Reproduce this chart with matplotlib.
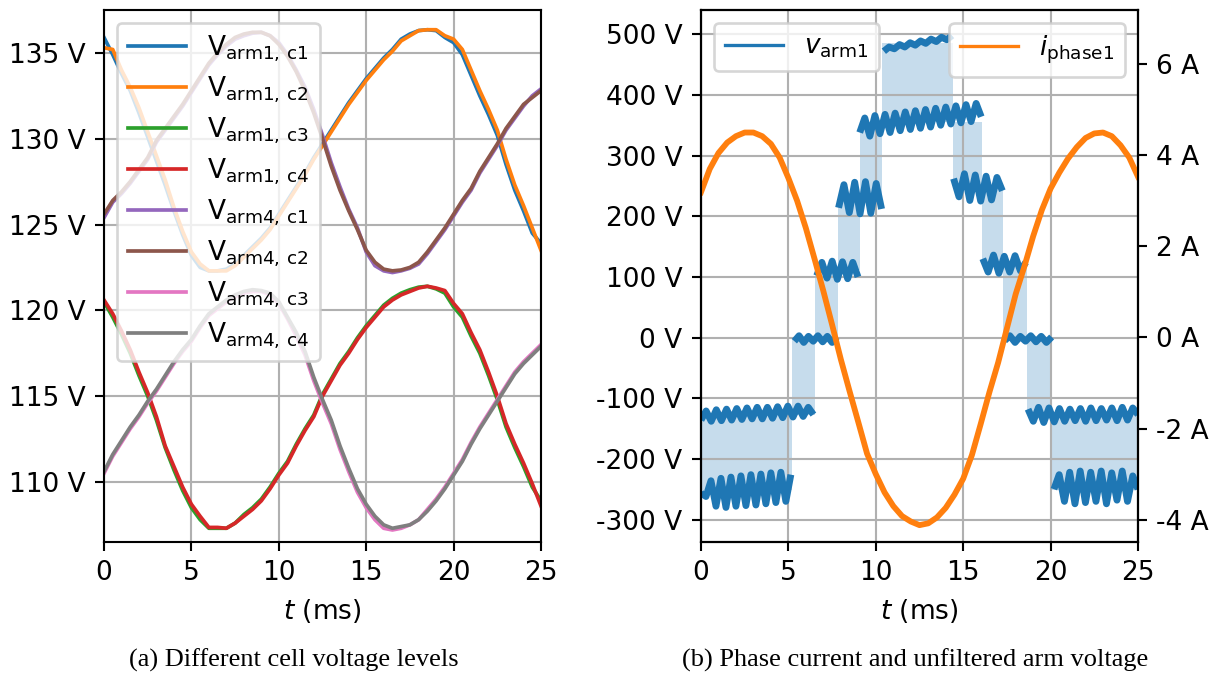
import numpy as np
import matplotlib
matplotlib.use('Agg')
import matplotlib.pyplot as plt
from matplotlib import ticker
from matplotlib.lines import Line2D

# tempo em ms, passo de 0.5 ms
t_cells = np.arange(0, 25.01, 0.5)

v_arm1_c1 = [135.9, 134.9, 133.8, 132.8, 131.5, 130.1, 128.7, 127.3, 125.8, 124.4, 123.2,
             122.5, 122.3, 122.3, 122.4, 122.7, 123.2, 123.7, 124.2, 124.8, 125.6,
             126.4, 127.2, 128.0, 128.9, 129.7, 130.5, 131.3, 132.1, 132.8, 133.5,
             134.1, 134.7, 135.2, 135.8, 136.1, 136.3, 136.35, 136.3, 135.9, 135.6,
             134.9, 133.7, 132.5, 131.4, 130.2, 128.5, 127.0, 125.8, 124.5, 123.9]
v_arm1_c2 = [135.3, 135.2, 134.0, 133.0, 131.8, 130.4, 129.0, 127.6, 126.0, 124.6, 123.4,
             122.7, 122.3, 122.3, 122.3, 122.6, 123.1, 123.6, 124.1, 124.7, 125.5,
             126.3, 127.1, 127.9, 128.8, 129.6, 130.4, 131.2, 132.0, 132.7, 133.4,
             134.0, 134.6, 135.1, 135.7, 136.0, 136.3, 136.35, 136.35, 136.0, 135.8,
             135.2, 134.0, 132.8, 131.7, 130.5, 128.8, 127.3, 126.1, 124.8, 123.5]
v_arm1_c3 = [120.5, 119.6, 118.6, 117.5, 116.2, 115.0, 113.6, 112.0, 110.7, 109.5, 108.5,
             107.8, 107.3, 107.3, 107.3, 107.6, 108.1, 108.5, 109.0, 109.7, 110.5,
             111.2, 112.2, 113.1, 113.9, 115.1, 116.0, 116.9, 117.6, 118.4, 119.1,
             119.7, 120.3, 120.7, 121.0, 121.2, 121.35, 121.4, 121.25, 121.0, 120.2,
             119.6, 118.5, 117.5, 116.2, 114.8, 113.2, 112.0, 110.9, 109.7, 108.9]
v_arm1_c4 = [120.6, 119.8, 118.8, 117.7, 116.4, 115.2, 113.8, 112.1, 110.9, 109.7, 108.7,
             108.0, 107.35, 107.35, 107.3, 107.6, 108.0, 108.4, 108.9, 109.6, 110.4,
             111.1, 112.1, 113.0, 113.8, 115.0, 115.9, 116.8, 117.5, 118.3, 119.0,
             119.6, 120.2, 120.6, 120.9, 121.1, 121.3, 121.4, 121.3, 121.15, 120.4,
             119.8, 118.7, 117.7, 116.4, 115.0, 113.4, 112.2, 111.1, 109.9, 108.6]
v_arm4_c1 = [125.4, 126.3, 126.8, 127.4, 128.1, 128.8, 129.8, 130.5, 131.2, 131.9, 132.7,
             133.5, 134.3, 134.9, 135.4, 135.8, 136.0, 136.15, 136.2, 136.0, 135.6,
             134.9, 134.0, 133.0, 131.7, 130.2, 128.6, 127.2, 125.9, 124.8, 123.4,
             122.6, 122.3, 122.2, 122.3, 122.45, 122.7, 123.3, 124.0, 124.7, 125.5,
             126.3, 127.0, 128.0, 128.8, 129.6, 130.5, 131.2, 131.9, 132.5, 132.9]
v_arm4_c2 = [125.6, 126.4, 126.9, 127.5, 128.2, 128.9, 129.9, 130.6, 131.3, 132.0, 132.8,
             133.6, 134.4, 135.0, 135.5, 135.9, 136.1, 136.2, 136.2, 136.0, 135.5,
             134.8, 133.9, 132.8, 131.5, 130.0, 128.4, 127.0, 125.8, 124.7, 123.5,
             122.8, 122.4, 122.3, 122.35, 122.5, 122.8, 123.4, 124.1, 124.8, 125.6,
             126.4, 127.1, 128.1, 128.9, 129.7, 130.6, 131.3, 132.0, 132.4, 132.8]
v_arm4_c3 = [110.5, 111.5, 112.3, 113.1, 113.8, 114.6, 115.3, 116.1, 116.9, 117.6, 118.2,
             119.0, 119.7, 120.1, 120.5, 120.8, 121.0, 121.1, 121.1, 120.9, 120.4,
             119.5, 118.5, 117.4, 115.9, 114.6, 113.4, 111.9, 110.6, 109.4, 108.5,
             107.8, 107.3, 107.2, 107.3, 107.5, 107.8, 108.4, 109.0, 109.7, 110.5,
             111.3, 112.3, 113.2, 114.0, 114.8, 115.6, 116.4, 117.0, 117.5, 118.0]
v_arm4_c4 = [110.6, 111.6, 112.4, 113.2, 113.9, 114.7, 115.4, 116.2, 117.0, 117.7, 118.3,
             119.1, 119.8, 120.2, 120.6, 120.9, 121.1, 121.2, 121.15, 121.0, 120.5,
             119.6, 118.7, 117.6, 116.1, 114.8, 113.6, 112.1, 110.8, 109.6, 108.7,
             108.0, 107.5, 107.3, 107.4, 107.5, 107.8, 108.3, 108.9, 109.6, 110.4,
             111.2, 112.2, 113.1, 113.9, 114.7, 115.5, 116.3, 116.9, 117.4, 117.9]

cell_series = [v_arm1_c1, v_arm1_c2, v_arm1_c3, v_arm1_c4,
               v_arm4_c1, v_arm4_c2, v_arm4_c3, v_arm4_c4]
cell_labels = [r'$\mathrm{V}_{\mathrm{arm1,\,c1}}$', r'$\mathrm{V}_{\mathrm{arm1,\,c2}}$',
               r'$\mathrm{V}_{\mathrm{arm1,\,c3}}$', r'$\mathrm{V}_{\mathrm{arm1,\,c4}}$',
               r'$\mathrm{V}_{\mathrm{arm4,\,c1}}$', r'$\mathrm{V}_{\mathrm{arm4,\,c2}}$',
               r'$\mathrm{V}_{\mathrm{arm4,\,c3}}$', r'$\mathrm{V}_{\mathrm{arm4,\,c4}}$']

# corrente de fase (A)
t_current = np.arange(0, 25.01, 0.5)
i_phase1 = [3.19, 3.70, 4.05, 4.28, 4.42, 4.50, 4.50, 4.42, 4.25, 3.95, 3.50,
            3.00, 2.40, 1.72, 1.02, 0.28, -0.48, -1.18, -1.86, -2.55, -3.00,
            -3.40, -3.70, -3.92, -4.04, -4.12, -4.08, -3.95, -3.74, -3.45, -3.10,
            -2.58, -1.90, -1.20, -0.55, 0.20, 0.95, 1.56, 2.22, 2.80, 3.27,
            3.62, 3.93, 4.18, 4.38, 4.48, 4.50, 4.42, 4.22, 3.95, 3.53]

# niveis da tensao do braco: (inicio, fim, valores com ripple)
arm_levels = [
    (0.00, 6.43, [-136, -121, -138, -119, -137, -118, -136, -117, -135, -116, -134, -115,
                  -134, -115, -133, -114, -132, -113, -131, -113, -130, -115, -127]),
    (0.00, 5.14, [-256, -262, -236, -278, -232, -280, -230, -278, -228, -277, -226, -276,
                  -225, -274, -223, -272, -222, -270, -226]),
    (5.34, 7.77, [-6, 3, -8, 2, -6, 3, -7, 2, -8, 1]),
    (6.62, 8.98, [102, 124, 98, 126, 96, 125, 97, 124, 100]),
    (7.87, 10.33, [214, 252, 206, 256, 204, 257, 205, 254, 212]),
    (9.08, 16.03, [338, 362, 332, 366, 336, 368, 338, 370, 341, 372, 343, 374, 345,
                   376, 347, 378, 350, 380, 352, 382, 354, 384, 356, 386, 364]),
    (10.46, 14.36, [472, 479, 476, 483, 479, 486, 482, 489, 485, 492, 488, 495, 491, 498]),
    (14.45, 17.24, [262, 232, 270, 226, 268, 225, 266, 227, 264, 242]),
    (16.12, 18.58, [130, 108, 136, 106, 134, 108, 135, 110, 124]),
    (17.37, 20.06, [-5, 3, -8, 2, -6, 3, -7, 2, -8, 1]),
    (18.71, 25.00, [-118, -138, -115, -140, -116, -139, -117, -138, -118, -137, -117,
                    -138, -116, -137, -117, -136, -116, -137, -115, -136, -116, -127]),
    (20.19, 25.00, [-250, -226, -270, -222, -274, -220, -272, -222, -270, -220, -274,
                    -223, -268, -220, -270, -228, -250]),
]

# faixas de chaveamento entre dois niveis
sw_start = [0.00, 5.20, 6.55, 7.85, 9.08, 10.36, 14.40, 16.05, 17.27, 18.66, 20.10]
sw_end = [5.20, 6.55, 7.85, 9.08, 10.36, 14.40, 16.05, 17.27, 18.66, 20.10, 25.00]
sw_low = [-252, -127, 0, 111, 230, 355, 248, 123, 0, -127, -252]
sw_high = [-127, 0, 111, 230, 355, 485, 355, 248, 123, 0, -127]

fig = plt.figure(figsize=(1215 / 190, 676 / 190), dpi=190)
ax1 = fig.add_axes([104 / 1215, 134 / 676, 437 / 1215, 532 / 676])
ax2 = fig.add_axes([701 / 1215, 134 / 676, 437 / 1215, 532 / 676])

# (a) tensoes das celulas
for serie, label in zip(cell_series, cell_labels):
    ax1.plot(t_cells, serie, lw=1.4, label=label)
ax1.set_xlim(0, 25)
ax1.set_ylim(106.5, 137.5)
ax1.set_xticks([0, 5, 10, 15, 20, 25])
ax1.set_yticks([110, 115, 120, 125, 130, 135])
ax1.yaxis.set_major_formatter(ticker.FuncFormatter(lambda v, p: f'{v:g} V'))
ax1.set_xlabel(r'$t$ (ms)')
ax1.grid(True)
ax1.legend(loc='upper left', fontsize=10, handlelength=2.2, labelspacing=0.4)

# (b) tensao do braco e corrente
for a, b, lo, hi in zip(sw_start, sw_end, sw_low, sw_high):
    ax2.fill_between([a, b], [lo, lo], [hi, hi], color='#1f77b4', alpha=0.25, lw=0)
for a, b, vals in arm_levels:
    ax2.plot(np.linspace(a, b, len(vals)), vals, color='#1f77b4', lw=2.6,
             solid_capstyle='butt')
ax2.set_xlim(0, 25)
ax2.set_ylim(-337, 540)
ax2.set_xticks([0, 5, 10, 15, 20, 25])
ax2.set_yticks(range(-300, 501, 100))
ax2.yaxis.set_major_formatter(ticker.FuncFormatter(lambda v, p: f'{v:g} V'))
ax2.set_xlabel(r'$t$ (ms)')
ax2.grid(True)

ax3 = ax2.twinx()
ax3.plot(t_current, i_phase1, color='#ff7f0e', lw=2.2)
ax3.set_ylim(-4.49, 7.19)
ax3.set_yticks([-4, -2, 0, 2, 4, 6])
ax3.yaxis.set_major_formatter(ticker.FuncFormatter(lambda v, p: f'{v:g} A'))

h_v = Line2D([], [], color='#1f77b4', lw=1.25)
h_i = Line2D([], [], color='#ff7f0e', lw=1.25)
ax2.legend([h_v], [r'$v_\mathrm{arm1}$'], loc='upper left', fontsize=10, handlelength=2.2)
ax3.legend([h_i], [r'$i_\mathrm{phase1}$'], loc='upper right', fontsize=10, handlelength=2.2)

fig.text(294 / 1215, 1 - 660 / 676, '(a) Different cell voltage levels',
         family='Liberation Serif', fontsize=10, ha='center', va='center')
fig.text(915 / 1215, 1 - 660 / 676, '(b) Phase current and unfiltered arm voltage',
         family='Liberation Serif', fontsize=10, ha='center', va='center')

fig.savefig('out.png', dpi=190)
